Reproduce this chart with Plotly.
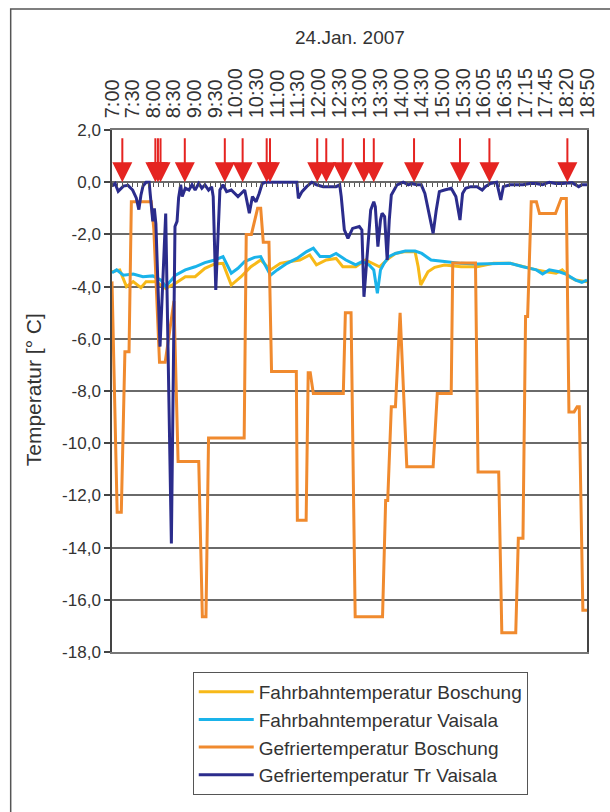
import plotly.graph_objects as go

# ---------------- data ----------------
time_labels = ["7:00", "7:30", "8:00", "8:30", "9:00", "9:30", "10:00", "10:30",
               "11:00", "11:30", "12:00", "12:30", "13:00", "13:30", "14:00", "14:30",
               "15:00", "15:30", "16:05", "16:35", "17:15", "17:45", "18:20", "18:50"]
samples_per_label = 4
n_samples = 93  # sample index 0 .. 92

y_ticks = list(range(2, -19, -2))
y_tick_text = [f"{v},0" for v in y_ticks]

# Fahrbahntemperatur Boschung (yellow)
fb_boschung_x = [0.0, 1.5, 2.8, 4.1, 5.6, 6.6, 8.5, 10.4, 12.3, 14.2, 16.1, 18.0, 19.9, 21.5,
                 23.1, 25.0, 26.9, 28.8, 30.7, 32.6, 34.5, 36.4, 38.3, 39.6, 41.5, 43.4, 44.7,
                 45.3, 47.2, 49.1, 50.4, 51.8, 53.6, 54.9, 56.8, 58.7, 59.3, 59.8, 61.2, 62.5,
                 64.4, 67.6, 70.7, 73.9, 77.1, 79.6, 82.2, 84.1, 86.0, 87.2, 88.5, 89.8, 92.0]
fb_boschung_y = [-3.43, -3.36, -4.0, -3.81, -4.04, -3.81, -3.81, -4.07, -3.87, -3.62, -3.62, -3.30,
                 -3.13, -3.11, -3.94, -3.62, -3.24, -2.98, -3.36, -3.11, -3.04, -2.98, -2.79, -3.17,
                 -2.98, -2.92, -3.24, -3.24, -3.24, -2.98, -3.11, -3.24, -2.92, -2.73, -2.66, -2.66,
                 -3.24, -3.94, -3.43, -3.26, -3.17, -3.24, -3.24, -3.11, -3.11, -3.24, -3.36, -3.43,
                 -3.49, -3.36, -3.62, -3.75, -3.81]

# Fahrbahntemperatur Vaisala (cyan)
fb_vaisala_x = [0.0, 0.9, 2.2, 4.1, 6.0, 7.9, 9.5, 10.4, 12.3, 14.2, 16.1, 18.0, 19.9, 21.5,
                23.1, 24.4, 25.7, 27.6, 28.8, 30.7, 32.0, 33.9, 35.8, 37.7, 39.0, 40.3, 42.2,
                43.4, 45.3, 47.2, 48.5, 49.8, 50.7, 51.4, 52.0, 52.7, 53.6, 54.9, 56.8, 58.7,
                60.0, 61.8, 64.4, 67.6, 70.7, 73.9, 77.1, 79.6, 82.2, 83.4, 84.7, 86.6, 87.9,
                89.8, 91.0, 92.0]
fb_vaisala_y = [-3.47, -3.36, -3.56, -3.52, -3.62, -3.59, -3.75, -4.0, -3.56, -3.36, -3.24, -3.08,
                -2.98, -2.85, -3.49, -3.30, -3.04, -2.88, -2.85, -3.56, -3.36, -3.11, -2.92, -2.66,
                -2.53, -2.85, -2.85, -2.73, -2.98, -3.17, -3.04, -3.17, -3.36, -4.26, -3.36, -3.11,
                -2.85, -2.73, -2.64, -2.64, -2.73, -2.98, -3.04, -3.11, -3.13, -3.11, -3.11, -3.24,
                -3.36, -3.52, -3.36, -3.43, -3.52, -3.75, -3.84, -3.75]

# Gefriertemperatur Boschung (orange)
gf_boschung_x = [0.0, 1.0, 1.8, 2.5, 3.3, 3.75, 7.6, 8.1, 9.2, 10.3, 12.0, 12.8, 16.8, 17.5,
                 18.2, 18.7, 25.6, 26.0, 27.0, 28.2, 28.8, 29.3, 30.4, 30.9, 35.7, 35.9, 37.6,
                 38.0, 38.4, 39.0, 44.8, 45.2, 46.3, 47.1, 52.4, 53.0, 53.4, 54.1, 54.9, 55.8,
                 57.1, 62.2, 63.0, 65.7, 66.0, 70.4, 70.9, 74.9, 75.5, 78.2, 78.7, 79.6, 80.1,
                 80.5, 81.2, 82.2, 82.8, 85.9, 87.0, 88.0, 88.5, 89.5, 90.1, 90.5, 91.2, 92.0]
gf_boschung_y = [-3.8, -12.65, -12.65, -6.5, -6.5, -0.75, -0.75, -1.8, -6.9, -6.9, -4.55, -10.7,
                 -10.7, -16.65, -16.65, -9.8, -9.8, -2.0, -2.0, -1.0, -1.0, -2.3, -2.3, -7.25,
                 -7.25, -12.95, -12.95, -7.3, -7.3, -8.1, -8.1, -5.0, -5.0, -16.65, -16.65, -12.2,
                 -12.2, -8.6, -8.6, -5.0, -10.9, -10.9, -8.1, -8.1, -3.1, -3.1, -11.1, -11.1,
                 -17.26, -17.26, -13.64, -13.64, -5.15, -5.15, -0.75, -0.75, -1.2, -1.2, -0.62,
                 -0.62, -8.8, -8.8, -8.6, -8.6, -16.4, -16.4]

# Gefriertemperatur Tr Vaisala (dark blue)
gf_vaisala_x = [0.0, 0.6, 1.2, 2.2, 3.1, 4.0, 4.7, 5.2, 5.6, 6.0, 6.6, 7.2, 7.4, 7.9, 8.2, 8.5,
                9.3, 9.8, 10.4, 11.5, 12.2, 12.6, 12.9, 13.3, 13.6, 14.2, 14.9, 15.5, 16.1, 16.8,
                17.4, 18.0, 18.7, 19.3, 19.6, 20.1, 20.9, 21.5, 22.2, 23.1, 24.4, 25.7, 26.6,
                27.2, 27.9, 28.5, 29.1, 29.8, 35.8, 36.1, 36.8, 37.7, 38.7, 39.6, 40.9, 43.4,
                44.1, 44.4, 45.0, 45.7, 46.6, 47.9, 48.4, 48.8, 49.5, 50.1, 50.7, 51.0, 51.5,
                52.0, 52.3, 52.8, 53.3, 53.7, 54.1, 54.5, 55.2, 55.8, 56.4, 57.4, 58.0, 59.0,
                59.9, 60.6, 61.5, 62.2, 62.8, 63.4, 64.4, 65.7, 66.6, 67.4, 67.9, 68.5, 69.5,
                70.7, 71.7, 72.3, 73.3, 74.5, 75.3, 75.8, 77.1, 78.3, 79.6, 80.9, 82.1, 83.4,
                84.7, 85.9, 87.2, 89.1, 90.4, 91.0, 92.0]
gf_vaisala_y = [-0.15, -0.05, -0.35, -0.15, -0.12, -0.3, -0.6, -1.05, -0.5, -0.15, 0.0, 0.0,
                -0.45, -1.5, -1.0, -1.6, -6.3, -4.0, -1.2, -13.84, -1.7, -1.5, -0.6, -0.1, -0.55,
                -0.23, -0.3, -0.1, -0.3, -0.05, -0.23, -0.1, -0.3, -0.17, -0.55, -4.13, -0.3,
                -0.1, -0.36, -0.3, -0.55, -0.3, -1.19, -0.55, -0.75, -0.43, -0.05, 0.0, 0.0,
                -0.62, -0.36, -0.17, 0.0, -0.1, -0.17, -0.17, -0.1, -0.55, -1.83, -2.15, -1.77,
                -1.7, -1.83, -4.39, -2.5, -1.07, -0.75, -0.94, -2.47, -1.45, -1.19, -1.32, -2.98,
                -1.45, -0.49, -0.36, -0.1, -0.05, 0.0, -0.1, -0.05, -0.1, -0.1, -0.43, -1.32,
                -1.96, -1.07, -0.36, -0.3, -0.23, -0.55, -1.45, -0.43, -0.23, -0.17, -0.17, -0.3,
                -0.17, -0.05, 0.0, -0.68, -0.17, -0.1, -0.1, -0.1, -0.05, -0.05, -0.1, 0.0,
                -0.05, -0.05, -0.02, -0.17, -0.1, -0.1]

# event markers (red arrows), sample positions
event_x = [2.0, 8.4, 8.9, 9.4, 14.1, 21.85, 25.3, 29.96, 30.6, 39.75, 41.5, 44.7,
           48.8, 50.7, 58.5, 67.4, 73.1, 88.2]

# ---------------- styling ----------------
FONT = "Liberation Sans, Arial, Helvetica, sans-serif"
TXT = "#333333"
GRID = "#6a6a6a"
RED = "#E52421"
ARROW_TOP = 1.74

series = [
    ("Fahrbahntemperatur Boschung", fb_boschung_x, fb_boschung_y, "#F7B918"),
    ("Fahrbahntemperatur Vaisala", fb_vaisala_x, fb_vaisala_y, "#1AB3EA"),
    ("Gefriertemperatur Boschung", gf_boschung_x, gf_boschung_y, "#F08A2E"),
    ("Gefriertemperatur Tr Vaisala", gf_vaisala_x, gf_vaisala_y, "#2B2C8C"),
]

fig = go.Figure()
for i, (name, xs, ys, col) in enumerate(series):
    fig.add_trace(go.Scatter(x=xs, y=ys, mode="lines", name=name,
                             legendgroup=f"g{i}",
                             line=dict(color=col, width=3)))

# invisible trace carrying the tick axis at y = 0
fig.add_trace(go.Scatter(x=[0, n_samples - 1], y=[0, 0], xaxis="x2", mode="lines",
                         line=dict(width=0), showlegend=False, hoverinfo="skip"))

annotations = []
for ex in event_x:
    annotations.append(dict(x=ex, y=0, ax=ex, ay=ARROW_TOP, xref="x", yref="y",
                            axref="x", ayref="y", text="", showarrow=True,
                            arrowhead=2, arrowsize=2.0, arrowwidth=2, arrowcolor=RED))

annotations.append(dict(text="24.Jan. 2007", x=0.5, y=1.178, xref="paper", yref="paper",
                        showarrow=False, font=dict(size=19, color=TXT, family=FONT),
                        xanchor="center", yanchor="middle"))
annotations.append(dict(text="Temperatur [° C]", x=-0.1636, y=0.502, xref="paper",
                        yref="paper", showarrow=False, textangle=-90,
                        font=dict(size=21, color=TXT, family=FONT),
                        xanchor="center", yanchor="middle"))

fig.update_layout(
    width=610, height=812,
    margin=dict(l=112, r=15, t=130, b=160),
    paper_bgcolor="white", plot_bgcolor="white",
    font=dict(family=FONT, color=TXT),
    showlegend=True,
    legend=dict(x=0.17, y=-0.038, xanchor="left", yanchor="top",
                bordercolor="#555555", borderwidth=1, bgcolor="white",
                font=dict(size=19, color=TXT, family=FONT),
                tracegroupgap=4, itemwidth=55, traceorder="normal"),
    xaxis=dict(range=[0, n_samples - 1], side="top",
               tickvals=[i * samples_per_label for i in range(len(time_labels))],
               ticktext=time_labels, tickangle=-90, ticks="",
               ticklabelstandoff=6,
               tickfont=dict(size=20, color=TXT, family=FONT),
               showgrid=False, zeroline=False, showline=True, linecolor="#777777",
               linewidth=1.5, mirror=True),
    xaxis2=dict(range=[0, n_samples - 1], overlaying="x", anchor="free", position=0.9,
                side="bottom", dtick=1, tick0=0, ticks="outside", ticklen=4,
                tickwidth=1, tickcolor="#555555", showticklabels=False,
                showgrid=False, zeroline=False, showline=False),
    yaxis=dict(range=[-18, 2], tickvals=y_ticks, ticktext=y_tick_text,
               ticks="outside", ticklen=6, tickwidth=1.5, tickcolor="#444444",
               tickfont=dict(size=17, color=TXT, family=FONT),
               showgrid=True, gridcolor=GRID, gridwidth=1.5,
               zeroline=False, showline=True, linecolor="#444444", linewidth=1.5,
               mirror=True),
    annotations=annotations,
    shapes=[dict(type="rect", xref="paper", yref="paper",
                 x0=-0.2133, x1=1.05, y0=-0.35, y1=1.2318,
                 line=dict(color="#555555", width=1.5), layer="above")],
)

fig.write_html("out.html")
